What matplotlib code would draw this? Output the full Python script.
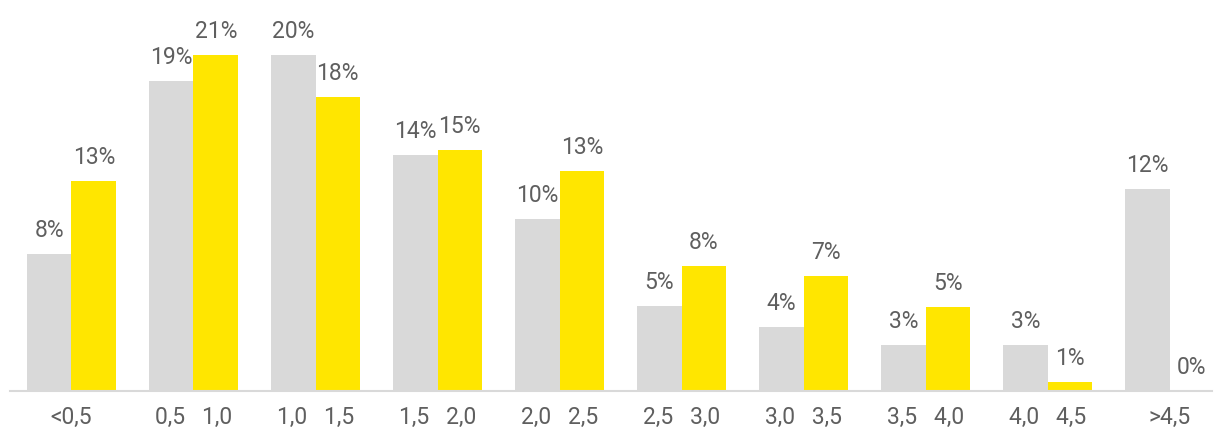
import matplotlib.pyplot as plt
import numpy as np

plt.rcParams['font.family'] = ['Roboto', 'DejaVu Sans']

# categorie e valori (in %)
categorie = ['<0,5', '0,5   1,0', '1,0   1,5', '1,5   2,0', '2,0   2,5',
             '2,5   3,0', '3,0   3,5', '3,5   4,0', '4,0   4,5', '>4,5']
grigio = [8.35, 18.9, 20.5, 14.4, 10.5, 5.2, 3.9, 2.8, 2.8, 12.3]
giallo = [12.8, 20.5, 17.9, 14.7, 13.4, 7.6, 7.0, 5.1, 0.55, 0.0]
etich_grigio = ['8%', '19%', '20%', '14%', '10%', '5%', '4%', '3%', '3%', '12%']
etich_giallo = ['13%', '21%', '18%', '15%', '13%', '8%', '7%', '5%', '1%', '0%']

col_grigio = '#D9D9D9'
col_giallo = '#FFE600'
col_testo = '#5F5F5F'
fs = 16.5

fig = plt.figure(figsize=(12.19, 4.32), dpi=100)
ax = fig.add_axes([10/1219, 41/432, 1202/1219, 361/432])

x = np.arange(len(categorie))
w = 0.365
b1 = ax.bar(x - w/2, grigio, w, color=col_grigio)
b2 = ax.bar(x + w/2, giallo, w, color=col_giallo)

for rect, lab in zip(b1, etich_grigio):
    ax.annotate(lab, (rect.get_x() + rect.get_width()/2, rect.get_height()),
                xytext=(0, 17), textcoords='offset points',
                ha='center', va='center', fontsize=fs, color=col_testo,
                annotation_clip=False)
for rect, lab in zip(b2, etich_giallo):
    ax.annotate(lab, (rect.get_x() + rect.get_width()/2, rect.get_height()),
                xytext=(0, 17), textcoords='offset points',
                ha='center', va='center', fontsize=fs, color=col_testo,
                annotation_clip=False)

ax.set_xlim(-0.504, 9.348)
ax.set_ylim(0, 22)
ax.set_xticks(x)
ax.set_xticklabels(categorie, fontsize=fs, color=col_testo)
ax.tick_params(axis='x', length=0, pad=11)
ax.set_yticks([])
for s in ['top', 'right', 'left']:
    ax.spines[s].set_visible(False)
ax.spines['bottom'].set_color(col_grigio)
ax.spines['bottom'].set_linewidth(1.5)

fig.savefig('out.png', dpi=100)
